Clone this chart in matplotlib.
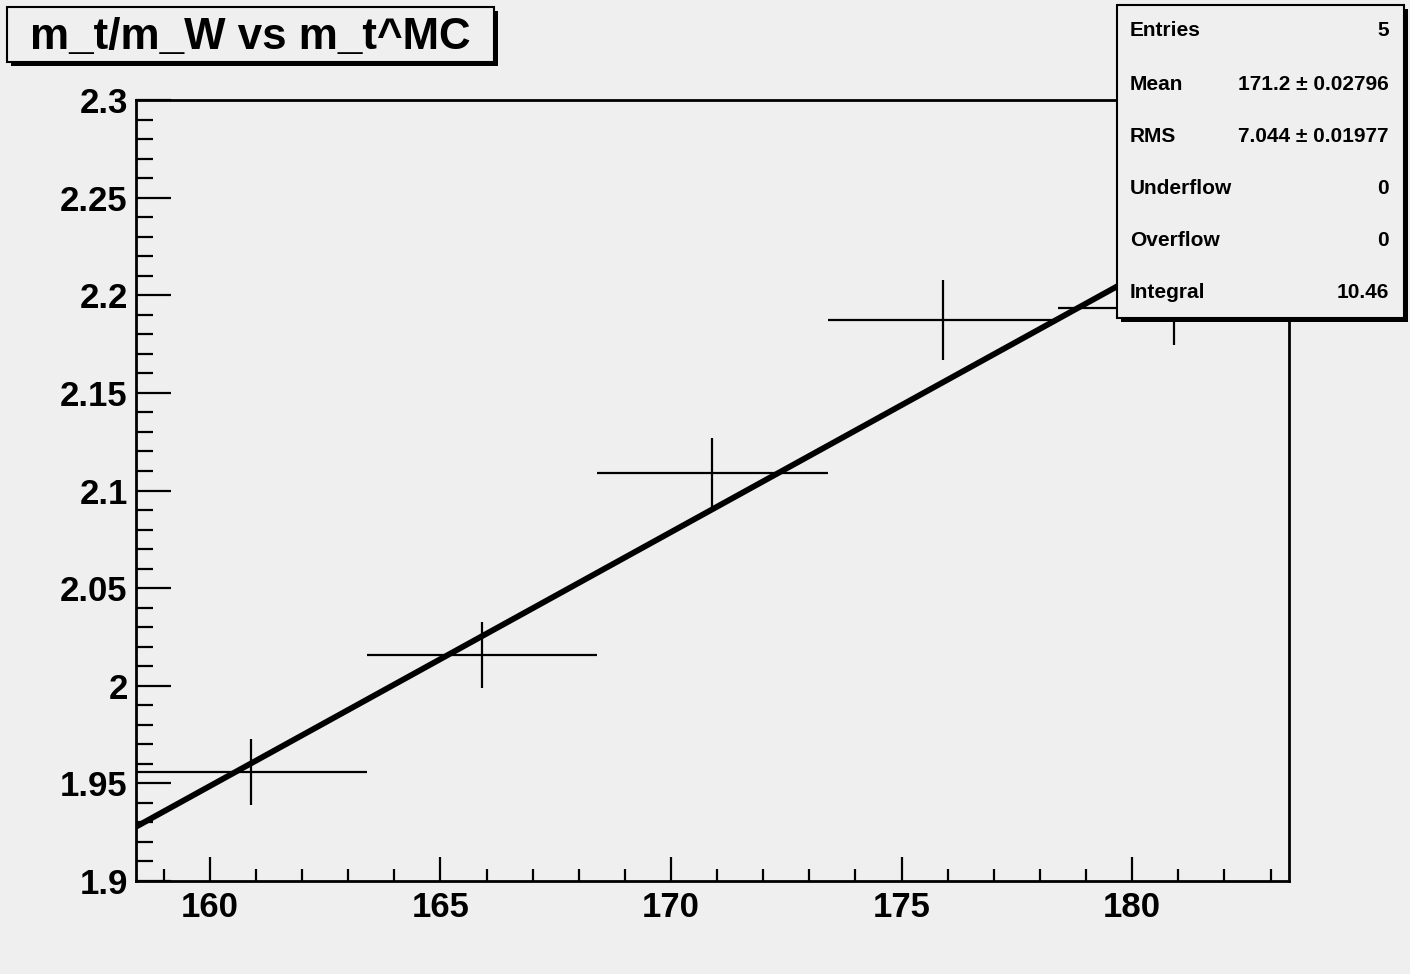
import matplotlib.pyplot as plt
from matplotlib.patches import Rectangle
from matplotlib.ticker import MultipleLocator
import numpy as np

plt.rcParams['font.family'] = ['Liberation Sans', 'DejaVu Sans']
plt.rcParams['font.weight'] = 'bold'

# histogram bins (m_t^MC) and contents
bin_centers = [160.9, 165.9, 170.9, 175.9, 180.9]
bin_halfwidth = 2.5
ratio = [1.9558, 2.0157, 2.1090, 2.1873, 2.1935]
ratio_err = [0.017, 0.017, 0.018, 0.0205, 0.019]
x_range = (158.4, 183.4)

# linear fit parameters p0 + p1*x
fit_p0 = -0.1330
fit_p1 = 0.01301

stat_names = ['Entries', 'Mean', 'RMS', 'Underflow', 'Overflow', 'Integral']
stat_values = ['5', '171.2 \u00b1 0.02796', '7.044 \u00b1 0.01977', '0', '0', '10.46']

bg = '#efefef'
fig = plt.figure(figsize=(14.1, 9.74), dpi=100, facecolor=bg)
ax = fig.add_axes([136/1410, 1-881/974, (1289-136)/1410, (881-100)/974])
ax.set_facecolor(bg)

ax.errorbar(bin_centers, ratio, xerr=bin_halfwidth, yerr=ratio_err, fmt='none',
            ecolor='black', elinewidth=1.6, capsize=0, zorder=2)

xf = np.linspace(x_range[0], x_range[1], 200)
ax.plot(xf, fit_p0 + fit_p1 * xf, color='black', lw=4.2, zorder=3)

ax.set_xlim(*x_range)
ax.set_ylim(1.9, 2.3)
ax.xaxis.set_major_locator(MultipleLocator(5))
ax.xaxis.set_minor_locator(MultipleLocator(1))
ax.yaxis.set_major_locator(MultipleLocator(0.05))
ax.yaxis.set_minor_locator(MultipleLocator(0.01))
ax.set_yticks([1.9, 1.95, 2.0, 2.05, 2.1, 2.15, 2.2, 2.25, 2.3])
ax.set_yticklabels(['1.9', '1.95', '2', '2.05', '2.1', '2.15', '2.2', '2.25', '2.3'])

ax.tick_params(which='both', direction='in', width=1.6, labelsize=25)
ax.tick_params(axis='y', which='major', length=25, pad=6)
ax.tick_params(axis='y', which='minor', length=12.5)
ax.tick_params(axis='x', which='major', length=17, pad=7)
ax.tick_params(axis='x', which='minor', length=8.5)
for lab in ax.get_xticklabels() + ax.get_yticklabels():
    lab.set_fontweight('bold')
for s in ax.spines.values():
    s.set_linewidth(2)

W, H = 1410, 974


def box(x0, y0, x1, y1, sh=4):
    # box in pixel coords (top-left origin) with drop shadow
    fig.patches.append(Rectangle(((x0+sh)/W, 1-(y1+sh)/H), (x1-x0)/W, (y1-y0)/H,
                                 transform=fig.transFigure, facecolor='black',
                                 edgecolor='black', lw=0, zorder=10))
    fig.patches.append(Rectangle((x0/W, 1-y1/H), (x1-x0)/W, (y1-y0)/H,
                                 transform=fig.transFigure, facecolor=bg,
                                 edgecolor='black', lw=1.5, zorder=11))


# title
box(7, 7, 494, 62)
fig.text(250/W, 1-37/H, 'm_t/m_W vs m_t^MC', fontsize=31.6, fontweight='bold',
         ha='center', va='center', zorder=12)

# stats box
box(1117, 5, 1404, 318)
rows_y = [31, 84, 136, 189, 241, 292]
for name, val, yy in zip(stat_names, stat_values, rows_y):
    fig.text(1130/W, 1-yy/H, name, fontsize=15, fontweight='bold',
             ha='left', va='center', zorder=12)
    fig.text(1389/W, 1-yy/H, val, fontsize=15, fontweight='bold',
             ha='right', va='center', zorder=12)

plt.savefig('out.png', dpi=100, facecolor=bg)
